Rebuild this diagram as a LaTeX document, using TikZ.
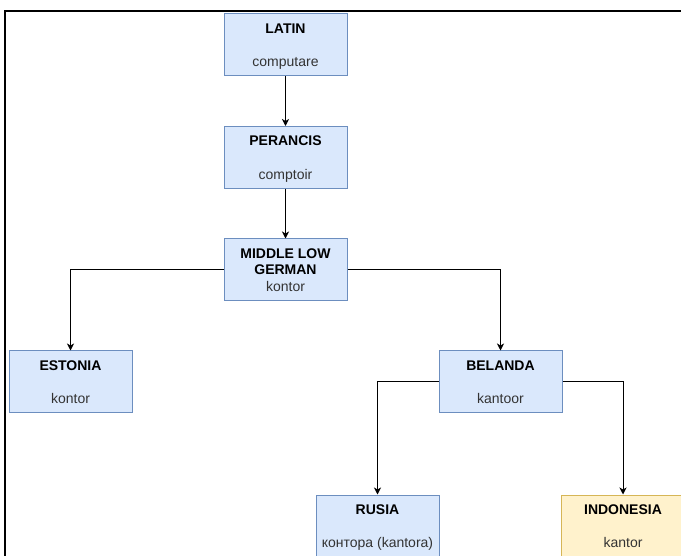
\documentclass[tikz,border=0pt]{standalone}
\usepackage{fontspec}
\setmainfont{Liberation Sans}
\usetikzlibrary{arrows.meta,calc}

\definecolor{fillblue}{HTML}{DAE8FC}
\definecolor{edgeblue}{HTML}{6C8EBF}
\definecolor{fillyellow}{HTML}{FFF2CC}
\definecolor{edgeyellow}{HTML}{D6B656}
\definecolor{wordgray}{HTML}{333333}

\tikzset{
  box/.style={draw=edgeblue, fill=fillblue, line width=1pt,
    minimum width=123pt, minimum height=62pt, inner sep=0pt},
  ybox/.style={box, draw=edgeyellow, fill=fillyellow},
  head/.style={font=\bfseries\fontsize{14}{16.8}\selectfont, text=black,
    anchor=base, inner sep=0pt},
  word/.style={font=\fontsize{14}{16.8}\selectfont, text=wordgray,
    anchor=base, inner sep=0pt},
  link/.style={draw=black, line width=1pt,
    -{Stealth[length=7pt,width=7pt,inset=2pt]}},
  frame/.style={draw=black, line width=2pt}
}

% box with a bold heading on top and a word underneath
\newcommand\etybox[5]{%
  \node[#2] (#1) at (#3) {};
  \node[head] (#1-h) at ($(#1.center)+(0,-11.95)$) {#4};
  \node[word] (#1-w) at ($(#1.center)+(0,21.65)$) {#5};
}

\begin{document}
\begin{tikzpicture}[x=1pt, y=-1pt]
  \useasboundingbox (0,0) rectangle (681,556);

  % page frame, top and left edges
  \draw[frame] (5,556) -- (5,11.5) -- (681,11.5);

  \etybox{latin}{box}{285.5,45}{LATIN}{computare}
  \etybox{perancis}{box}{285.5,157.5}{PERANCIS}{comptoir}

  \node[box] (mlg) at (285.5,270) {};
  \node[head] (mlg-h1) at ($(mlg.center)+(0,-11.95)$) {MIDDLE LOW};
  \node[head] (mlg-h2) at ($(mlg.center)+(0,4.85)$) {GERMAN};
  \node[word] (mlg-w) at ($(mlg.center)+(0,21.65)$) {kontor};

  \etybox{estonia}{box}{70.5,382}{ESTONIA}{kontor}
  \etybox{belanda}{box}{500.5,382}{BELANDA}{kantoor}
  \etybox{rusia}{box}{377.5,526}{RUSIA}{контора (kantora)}
  \etybox{indonesia}{ybox}{623,526}{INDONESIA}{kantor}

  \draw[link] (latin.south) -- (perancis.north);
  \draw[link] (perancis.south) -- (mlg.north);
  \draw[link] (mlg.west) -| (estonia.north);
  \draw[link] (mlg.east) -| (belanda.north);
  \draw[link] (belanda.west) -| (rusia.north);
  \draw[link] (belanda.east) -| (indonesia.north);
\end{tikzpicture}
\end{document}
